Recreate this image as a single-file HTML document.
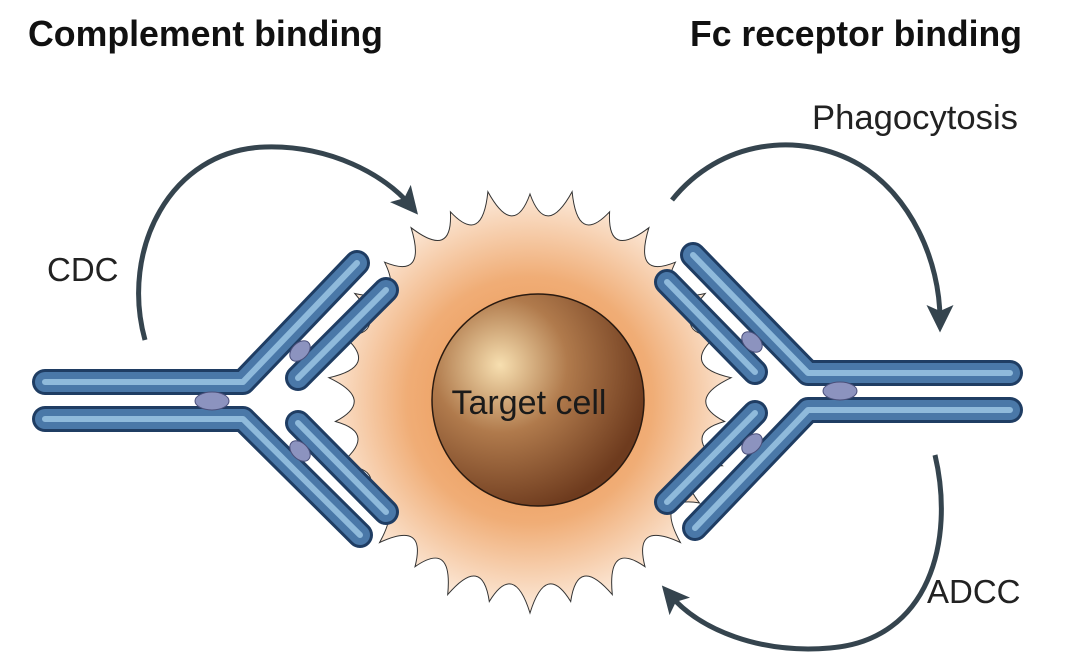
<!DOCTYPE html>
<html><head><meta charset="utf-8"><style>
html,body{margin:0;padding:0;background:#fff;}
svg{display:block;}
text{font-family:"Liberation Sans",sans-serif;}
</style></head><body>
<svg id="s" width="1080" height="671" viewBox="0 0 1080 671" xmlns="http://www.w3.org/2000/svg">
<defs>
<radialGradient id="og" cx="530" cy="400" r="205" gradientUnits="userSpaceOnUse">
<stop offset="0" stop-color="#e88d45"/>
<stop offset="0.6" stop-color="#f0ad76"/>
<stop offset="1" stop-color="#fbe6d4"/>
</radialGradient>
<radialGradient id="bg" cx="500" cy="365" r="150" gradientUnits="userSpaceOnUse">
<stop offset="0" stop-color="#f7dfb0"/>
<stop offset="0.45" stop-color="#b07a4c"/>
<stop offset="1" stop-color="#6e3b1e"/>
</radialGradient>
<marker id="ah" markerWidth="6" markerHeight="6" refX="3" refY="3" orient="auto" markerUnits="strokeWidth">
<path d="M0,0.3 L5.5,3 L0,5.7 L1.2,3 Z" fill="#35444e"/>
</marker>
</defs>
<path id="blob" fill="url(#og)" stroke="#333" stroke-width="1"/>
<circle cx="538" cy="400" r="106" fill="url(#bg)" stroke="#2a1a10" stroke-width="1.5"/>
<text x="529" y="414" font-size="34" text-anchor="middle" fill="#1a1a1a">Target cell</text>

<g fill="none" stroke-linecap="round" stroke-linejoin="round">
<g stroke="#1f3d63" stroke-width="26">
<polyline points="45,382 243,382 357,263"/>
<polyline points="45,419 243,419 360,535"/>
<line x1="386" y1="290" x2="298" y2="378"/>
<line x1="298" y1="423" x2="386" y2="512"/>
</g>
<g stroke="#4a78a8" stroke-width="20">
<polyline points="45,382 243,382 357,263"/>
<polyline points="45,419 243,419 360,535"/>
<line x1="386" y1="290" x2="298" y2="378"/>
<line x1="298" y1="423" x2="386" y2="512"/>
</g>
<g stroke="#8fbadb" stroke-width="6">
<polyline points="45,382 243,382 357,263"/>
<polyline points="45,419 243,419 360,535"/>
<line x1="386" y1="290" x2="298" y2="378"/>
<line x1="298" y1="423" x2="386" y2="512"/>
</g>
</g>
<g fill="#8c93bf" stroke="#4a4f7a" stroke-width="1">
<ellipse cx="212" cy="401" rx="17" ry="9"/>
<ellipse cx="300" cy="351" rx="12" ry="8" transform="rotate(-45 300 351)"/>
<ellipse cx="300" cy="451" rx="12" ry="8" transform="rotate(45 300 451)"/>
</g>

<g fill="none" stroke-linecap="round" stroke-linejoin="round">
<g stroke="#1f3d63" stroke-width="26">
<polyline points="1010,373 808,373 693,255"/>
<polyline points="1010,410 808,410 695,528"/>
<line x1="667" y1="282" x2="755" y2="372"/>
<line x1="755" y1="413" x2="667" y2="502"/>
</g>
<g stroke="#4a78a8" stroke-width="20">
<polyline points="1010,373 808,373 693,255"/>
<polyline points="1010,410 808,410 695,528"/>
<line x1="667" y1="282" x2="755" y2="372"/>
<line x1="755" y1="413" x2="667" y2="502"/>
</g>
<g stroke="#8fbadb" stroke-width="6">
<polyline points="1010,373 808,373 693,255"/>
<polyline points="1010,410 808,410 695,528"/>
<line x1="667" y1="282" x2="755" y2="372"/>
<line x1="755" y1="413" x2="667" y2="502"/>
</g>
</g>
<g fill="#8c93bf" stroke="#4a4f7a" stroke-width="1">
<ellipse cx="840" cy="391" rx="17" ry="9"/>
<ellipse cx="752" cy="342" rx="12" ry="8" transform="rotate(45 752 342)"/>
<ellipse cx="752" cy="444" rx="12" ry="8" transform="rotate(-45 752 444)"/>
</g>

<g fill="none" stroke="#35444e" stroke-width="5" marker-end="url(#ah)">
<path d="M145,340 C120,250 170,150 265,147 C330,145 385,175 410,205"/>
<path d="M672,200 C720,140 800,130 860,165 C910,195 940,260 940,320"/>
<path d="M935,455 C955,540 930,640 830,648 C760,654 700,630 670,595"/>
</g>

<text x="28" y="46" font-size="36" font-weight="bold" fill="#111" textLength="355" lengthAdjust="spacingAndGlyphs">Complement binding</text>
<text x="690" y="46" font-size="36" font-weight="bold" fill="#111" textLength="332" lengthAdjust="spacingAndGlyphs">Fc receptor binding</text>
<text x="812" y="129" font-size="34" fill="#222" textLength="206" lengthAdjust="spacingAndGlyphs">Phagocytosis</text>
<text x="47" y="281" font-size="33" fill="#222">CDC</text>
<text x="927" y="603" font-size="33" fill="#222">ADCC</text>
</svg>
<script>
(function(){
var cx=530,cy=400,N=30,d="";
for(var i=0;i<=N;i++){
 var a=i/N*2*Math.PI-Math.PI/2;
 var rt=209+ (i%2?4:-3);
 var x=cx+rt*0.95*Math.cos(a), y=cy+rt*Math.sin(a);
 if(i==0){d+="M"+x.toFixed(1)+","+y.toFixed(1);continue;}
 var am=(i-0.5)/N*2*Math.PI-Math.PI/2, rv=162;
 var qx=cx+rv*0.95*Math.cos(am), qy=cy+rv*Math.sin(am);
 d+=" Q"+qx.toFixed(1)+","+qy.toFixed(1)+" "+x.toFixed(1)+","+y.toFixed(1);
}
document.getElementById("blob").setAttribute("d",d+"Z");
})();
</script>
</body></html>
